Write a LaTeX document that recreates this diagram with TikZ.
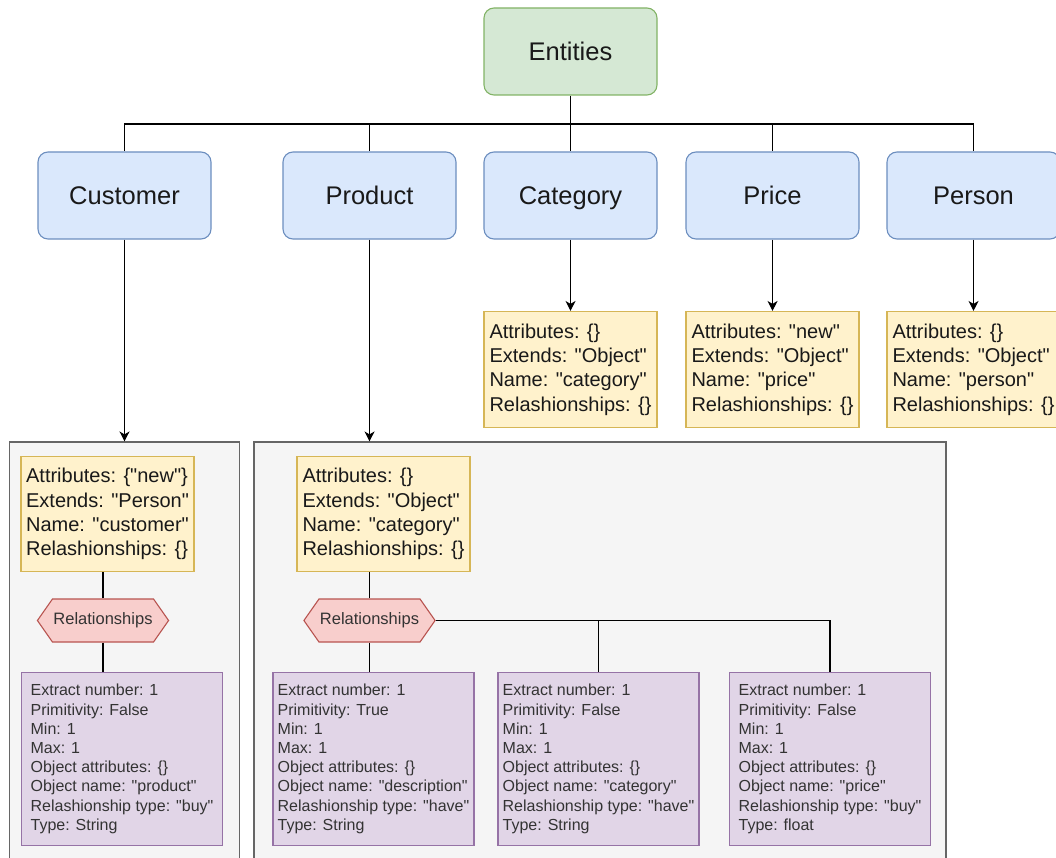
\documentclass[tikz,border=0pt]{standalone}
\usepackage{fontspec}
\newfontfamily\lsans{Liberation Sans}
\usetikzlibrary{arrows.meta,shapes.symbols}
\definecolor{gruenF}{HTML}{D5E8D4}
\definecolor{gruenR}{HTML}{82B366}
\definecolor{blauF}{HTML}{DAE8FC}
\definecolor{blauR}{HTML}{6C8EBF}
\definecolor{gelbF}{HTML}{FFF2CC}
\definecolor{gelbR}{HTML}{D6B656}
\definecolor{rotF}{HTML}{F8CECC}
\definecolor{rotR}{HTML}{B85450}
\definecolor{lilaF}{HTML}{E1D5E7}
\definecolor{lilaR}{HTML}{9673A6}
\definecolor{grauF}{HTML}{F5F5F5}
\definecolor{grauR}{HTML}{666666}
\begin{document}
\begin{tikzpicture}[x = 1pt, y = -1pt, line width = 1.1pt, color = {black},
    >= {Stealth[length = 10pt, width = 10pt, inset = 3pt]},
    wurzel/.style = {draw = gruenR, fill = gruenF, rounded corners = 10pt, minimum width = 173pt, minimum height = 87pt, text height = 19pt, text depth = 1pt, font = \lsans\fontsize{25.5}{30}\selectfont, text = black!90},
    entitaet/.style = {draw = blauR, fill = blauF, rounded corners = 10pt, minimum width = 173pt, minimum height = 87pt, text height = 19pt, text depth = 1pt, font = \lsans\fontsize{25.5}{30}\selectfont, text = black!90},
    attr/.style = {draw = gelbR, fill = gelbF, minimum width = 173pt, minimum height = 116pt, align = left, inner sep = 0pt, font = \lsans\fontsize{20}{24.3}\selectfont, text = black!90},
    behaelter/.style = {draw = grauR, fill = grauF, inner sep = 0pt},
    bez/.style = {signal, signal to = east and west, signal pointer angle = 110, draw = rotR, fill = rotF, minimum width = 130pt, minimum height = 43pt, inner sep = 1pt, font = \lsans\fontsize{16.5}{19.8}\selectfont, text = black!80},
    objekt/.style = {draw = lilaR, fill = lilaF, minimum width = 201pt, minimum height = 173pt, align = left, inner sep = 0pt, font = \lsans\fontsize{16}{19.2}\selectfont, text = black!80}]
    \useasboundingbox (0,0) rectangle (1056,858);
    \clip (0,0) rectangle (1056,858);
    \node[wurzel] (ent) at (570.5,51.5) {Entities};
    \node[entitaet] (kunde) at (124.5,195.5) {Customer};
    \node[entitaet] (produkt) at (369.5,195.5) {Product};
    \node[entitaet] (kat) at (570.5,195.5) {Category};
    \node[entitaet] (preis) at (772.5,195.5) {Price};
    \node[entitaet] (person) at (973.5,195.5) {Person};
    \node[attr] (katA) at (570.5,369.5) {Attributes: \{\}\\Extends: "Object"\\Name: "category"\\Relashionships: \{\}};
    \node[attr] (preisA) at (772.5,369.5) {Attributes: "new"\\Extends: "Object"\\Name: "price"\\Relashionships: \{\}};
    \node[attr] (personA) at (973.5,369.5) {Attributes: \{\}\\Extends: "Object"\\Name: "person"\\Relashionships: \{\}};
    \node[behaelter, minimum width = 230pt, minimum height = 440pt] (kbox) at (124.5,662) {};
    \node[behaelter, minimum width = 692pt, minimum height = 440pt] (pbox) at (600,662) {};
    \node[attr, minimum height = 115pt] (kundeA) at (107.5,514) {Attributes: \{"new"\}\\Extends: "Person"\\Name: "customer"\\Relashionships: \{\}};
    \node[attr, minimum height = 115pt] (produktA) at (383.5,514) {Attributes: \{\}\\Extends: "Object"\\Name: "category"\\Relashionships: \{\}};
    \node[bez] (krel) at (103,620.5) {Relationships};
    \node[bez] (prel) at (369.5,620.5) {Relationships};
    \node[objekt] (kobj) at (122,759) {Extract number: 1\\Primitivity: False\\Min: 1\\Max: 1\\Object attributes: \{\}\\Object name: "product"\\Relashionship type: "buy"\\Type: String};
    \node[objekt] (pobjA) at (373.5,759) {Extract number: 1\\Primitivity: True\\Min: 1\\Max: 1\\Object attributes: \{\}\\Object name: "description"\\Relashionship type: "have"\\Type: String};
    \node[objekt] (pobjB) at (598.5,759) {Extract number: 1\\Primitivity: False\\Min: 1\\Max: 1\\Object attributes: \{\}\\Object name: "category"\\Relashionship type: "have"\\Type: String};
    \node[objekt] (pobjC) at (830,759) {Extract number: 1\\Primitivity: False\\Min: 1\\Max: 1\\Object attributes: \{\}\\Object name: "price"\\Relashionship type: "buy"\\Type: float};
    \coordinate (bus) at (570.5,124);
    \draw (ent.south) -- (bus) -| (kunde.north);
    \draw (bus) -| (produkt.north);
    \draw (bus) -- (kat.north);
    \draw (bus) -| (preis.north);
    \draw (bus) -| (person.north);
    \draw[->] (kunde.south) -- (kbox.north);
    \draw[->] (produkt.south) -- (produkt.south |- pbox.north);
    \draw[->] (kat.south) -- (katA.north);
    \draw[->] (preis.south) -- (preisA.north);
    \draw[->] (person.south) -- (personA.north);
    \draw (krel.north) -- (krel.north |- kundeA.south);
    \draw (krel.south) -- (krel.south |- kobj.north);
    \draw (prel.north) -- (prel.north |- produktA.south);
    \draw (prel.south) -- (prel.south |- pobjA.north);
    \draw (prel.east) -| (pobjB.north);
    \draw (prel.east) -| (pobjC.north);
\end{tikzpicture}
\end{document}
